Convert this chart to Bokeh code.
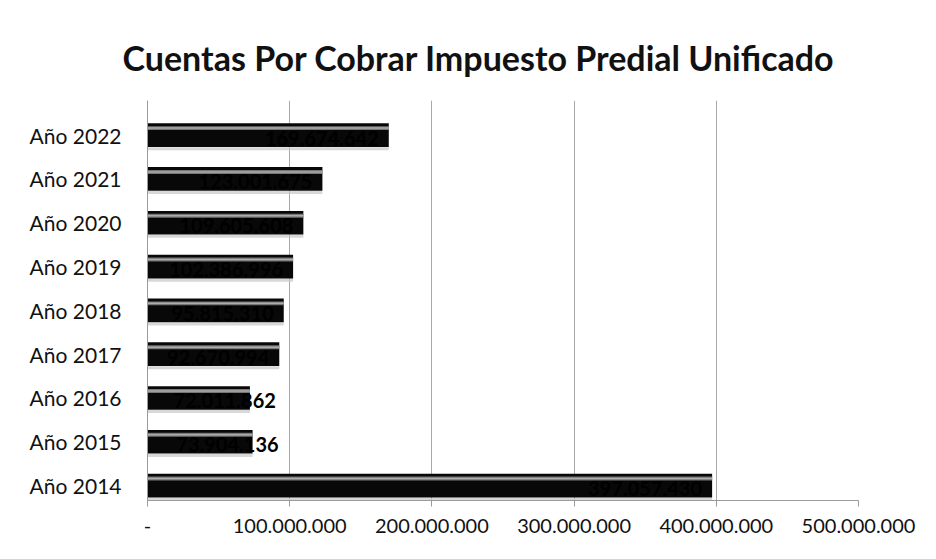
from bokeh.plotting import figure
from bokeh.models import Range1d, FixedTicker, ColumnDataSource
from bokeh.core.properties import value
from bokeh.embed import file_html
from bokeh.resources import INLINE

years = ["Año 2014", "Año 2015", "Año 2016", "Año 2017", "Año 2018",
         "Año 2019", "Año 2020", "Año 2021", "Año 2022"]
values = [397057430, 73904136, 72011862, 92670994, 95815310,
          102386996, 109605608, 123001675, 169674642]
value_labels = ["397.057.430", "73.904.136", "72.011.862", "92.670.994", "95.815.310",
                "102.386.996", "109.605.608", "123.001.675", "169.674.642"]
x_ticks = [0, 100000000, 200000000, 300000000, 400000000, 500000000]
x_tick_labels = ["-", "100.000.000", "200.000.000", "300.000.000", "400.000.000", "500.000.000"]

FONT = "Lato"
idx = list(range(len(years)))
offs = [-10 if v > 8e7 else 26 for v in values]

src = ColumnDataSource(dict(y=idx, v=values, lab=value_labels, off=offs,
                            yh=[i + 0.16 for i in idx], ys=[i - 0.31 for i in idx]))

p = figure(width=920, height=543, output_backend="svg", toolbar_location=None,
           x_range=Range1d(0, 500000000), y_range=Range1d(-0.34, 8.79),
           min_border_left=147, min_border_right=62, min_border_top=100, min_border_bottom=43)

p.title.text = "Cuentas Por Cobrar Impuesto Predial Unificado"
p.title.text_font = FONT
p.title.text_font_size = "34px"
p.title.text_font_style = "bold"
p.title.text_color = "#111111"
p.title.align = "left"
p.title.offset = -25
p.title.standoff = 46

# shadow, bar, highlight
p.hbar(y="ys", right="v", left=0, height=0.07, source=src, fill_color="#c8c8c8",
       line_color=None, fill_alpha=0.7)
p.hbar(y="y", right="v", left=0, height=0.54, source=src, fill_color="#080808",
       line_color=None)
p.hbar(y="yh", right="v", left=0, height=0.09, source=src, fill_color="#8a8a8a",
       line_color=None, fill_alpha=0.85)
p.hbar(y="yh", right="v", left=0, height=0.035, source=src, fill_color="#d0d0d0",
       line_color=None, fill_alpha=0.6)

p.text(x="v", y="y", text="lab", x_offset="off", y_offset=3, source=src, text_align="right",
       text_baseline="middle", text_font=value(FONT), text_font_size="20px",
       text_font_style="bold", text_color="#000000")

p.xaxis.ticker = FixedTicker(ticks=x_ticks)
p.xaxis.major_label_overrides = {t: l for t, l in zip(x_ticks, x_tick_labels)}
p.yaxis.ticker = FixedTicker(ticks=idx)
p.yaxis.major_label_overrides = {i: y for i, y in zip(idx, years)}

for ax in (p.xaxis[0], p.yaxis[0]):
    ax.axis_line_color = "#9a9a9a"
    ax.major_label_text_font = FONT
    ax.major_label_text_color = "#111111"
    ax.minor_tick_line_color = None
p.xaxis.major_label_text_font_size = "20px"
p.yaxis.major_label_text_font_size = "21px"
p.xaxis.major_tick_line_color = "#9a9a9a"
p.xaxis.major_tick_in = 0
p.xaxis.major_tick_out = 6
p.xaxis.major_label_standoff = 12
p.yaxis.major_tick_line_color = None
p.yaxis.major_label_standoff = 20

p.xgrid.ticker = FixedTicker(ticks=x_ticks)
p.xgrid.grid_line_color = "#a8a8a8"
p.ygrid.grid_line_color = None
p.outline_line_color = None

open("out.html", "w").write(file_html(p, INLINE))
